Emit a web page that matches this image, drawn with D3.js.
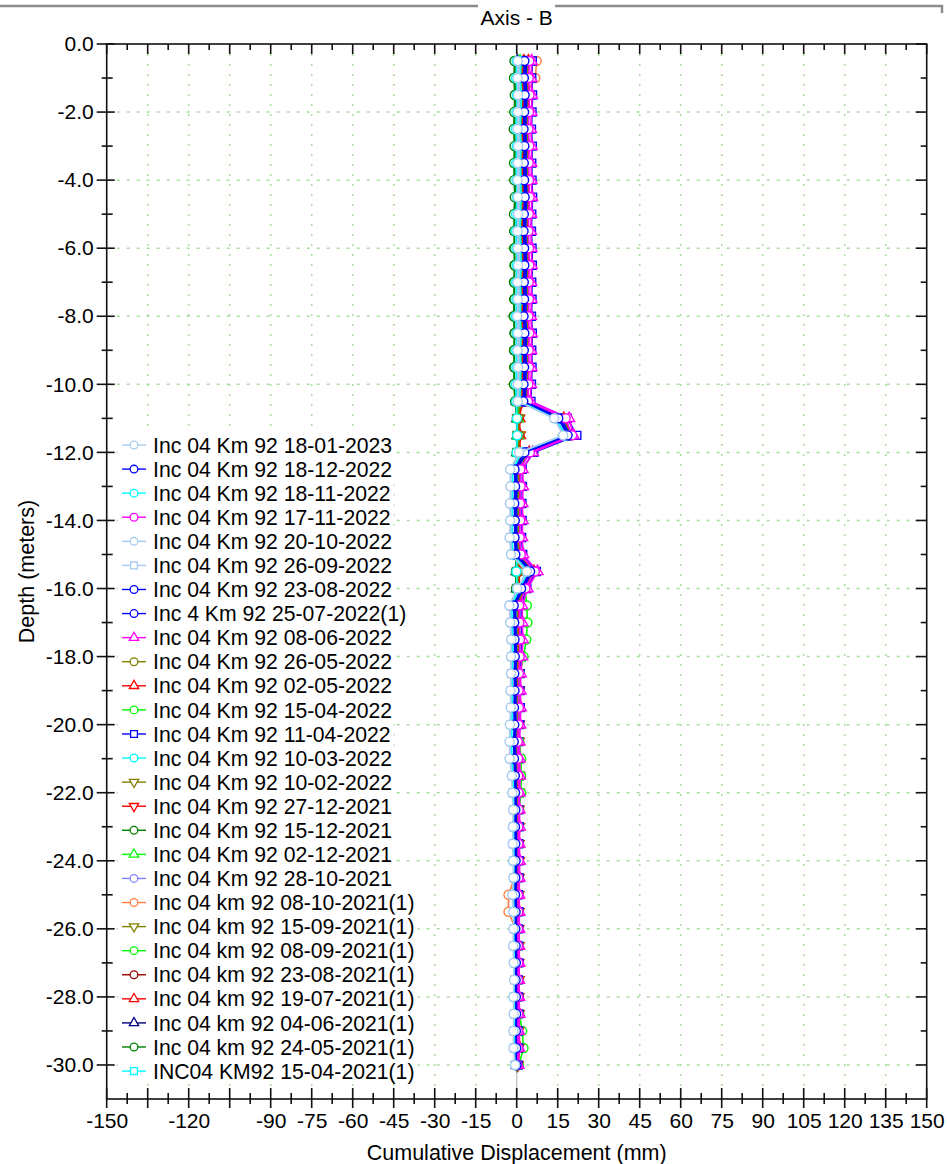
<!DOCTYPE html>
<html>
<head>
<meta charset="utf-8">
<script src="https://cdn.jsdelivr.net/npm/d3@7"></script>
<style>
  body { margin: 0; background: #fff; }
  svg { display: block; font-family: Arial, "Liberation Sans", sans-serif; }
</style>
</head>
<body>
<svg id="chart"></svg>
<script>
// depth of each reading (m)
const depths = [-0.5,-1.0,-1.5,-2.0,-2.5,-3.0,-3.5,-4.0,-4.5,-5.0,
  -5.5,-6.0,-6.5,-7.0,-7.5,-8.0,-8.5,-9.0,-9.5,-10.0,
  -10.5,-11.0,-11.5,-12.0,-12.5,-13.0,-13.5,-14.0,-14.5,-15.0,
  -15.5,-16.0,-16.5,-17.0,-17.5,-18.0,-18.5,-19.0,-19.5,-20.0,
  -20.5,-21.0,-21.5,-22.0,-22.5,-23.0,-23.5,-24.0,-24.5,-25.0,
  -25.5,-26.0,-26.5,-27.0,-27.5,-28.0,-28.5,-29.0,-29.5,-30.0];

// cumulative displacement (mm), one array per reading
const d20230118 = [0.4,0.3,0.5,0.4,0.3,0.5,0.4,0.3,0.4,0.5, 0.3,0.4,0.5,0.3,0.4,0.2,0.4,0.3,0.5,0.4,
  0.4,13.7,17.0,0.9,-2.4,-2.3,-2.5,-2.4,-2.6,-2.1, 3.7,0.2,-2.7,-2.4,-2.0,-2.1,-2.1,-2.3,-2.2,-2.5,
  -2.6,-2.6,-1.8,-1.6,-1.3,-1.4,-1.5,-1.3,-1.2,-1.6, -1.2,-1.2,-1.3,-1.1,-1.0,-1.2,-1.1,-1.2,-1.2,-0.6];
const d20221218 = [2.8,2.6,2.9,2.7,2.5,2.8,2.6,2.7,2.9,2.6, 2.5,2.7,2.8,2.6,2.7,2.5,2.8,2.6,2.7,2.5,
  2.4,15.2,18.6,2.8,-0.8,-0.6,-0.9,-0.7,-0.8,-0.5, 4.9,1.6,-1.1,-0.9,-0.8,-0.7,-0.9,-0.8,-1.0,-0.9,
  -1.1,-1.0,-0.7,-0.6,-0.5,-0.6,-0.5,-0.4,-0.5,-0.6, -0.4,-0.5,-0.4,-0.3,-0.4,-0.3,-0.2,-0.3,-0.2,-0.1];
const d20221118 = [1.5,1.4,1.7,1.5,1.3,1.6,1.4,1.5,1.6,1.4, 1.3,1.5,1.6,1.4,1.5,1.3,1.6,1.4,1.5,1.3,
  1.2,14.4,17.8,1.9,-1.5,-1.4,-1.6,-1.5,-1.7,-1.3, 4.3,0.9,-1.8,-1.6,-1.4,-1.4,-1.5,-1.6,-1.5,-1.7,
  -1.8,-1.8,-1.2,-1.1,-0.9,-1.0,-1.0,-0.9,-0.8,-1.0, -0.8,-0.8,-0.9,-0.7,-0.6,-0.8,-0.7,-0.7,-0.7,-0.3];
const d20221117 = [4.6,4.4,4.7,4.5,4.3,4.6,4.4,4.5,4.7,4.4, 4.3,4.5,4.6,4.4,4.5,4.3,4.6,4.4,4.5,4.3,
  4.1,17.9,20.3,4.8,1.3,1.4,1.2,1.3,1.1,1.5, 6.6,3.2,0.9,1.0,1.2,1.1,0.8,0.7,0.8,0.6,
  0.4,0.5,0.6,0.7,0.7,0.6,0.6,0.7,0.6,0.5, 0.6,0.5,0.5,0.6,0.5,0.5,0.6,0.4,0.5,0.3];
const d20221020 = [0.6,0.5,0.8,0.6,0.5,0.7,0.6,0.5,0.7,0.6, 0.5,0.6,0.8,0.5,0.6,0.4,0.7,0.5,0.7,0.6,
  0.6,14.0,17.3,1.2,-2.1,-2.0,-2.2,-2.1,-2.3,-1.9, 3.9,0.5,-2.4,-2.1,-1.8,-1.9,-1.9,-2.1,-2.0,-2.2,
  -2.3,-2.3,-1.6,-1.4,-1.1,-1.2,-1.3,-1.1,-1.0,-1.4, -1.0,-1.0,-1.1,-0.9,-0.8,-1.0,-0.9,-1.0,-1.0,-0.5];
const d20220926 = [1.0,0.9,1.2,1.0,0.8,1.1,0.9,1.0,1.1,0.9, 0.8,1.0,1.1,0.9,1.0,0.8,1.1,0.9,1.0,0.8,
  0.8,14.2,17.6,1.5,-1.9,-1.8,-2.0,-1.9,-2.1,-1.7, 4.0,0.7,-2.2,-1.9,-1.6,-1.7,-1.8,-1.9,-1.8,-2.0,
  -2.1,-2.1,-1.4,-1.3,-1.0,-1.1,-1.2,-1.0,-0.9,-1.2, -0.9,-0.9,-1.0,-0.8,-0.7,-0.9,-0.8,-0.9,-0.9,-0.4];
const d20220823 = [3.2,3.0,3.3,3.1,2.9,3.2,3.0,3.1,3.3,3.0, 2.9,3.1,3.2,3.0,3.1,2.9,3.2,3.0,3.1,2.9,
  2.8,15.8,19.0,3.3,-0.4,-0.3,-0.5,-0.4,-0.5,-0.2, 5.3,1.9,-0.8,-0.6,-0.5,-0.4,-0.6,-0.5,-0.7,-0.6,
  -0.8,-0.7,-0.5,-0.4,-0.3,-0.4,-0.3,-0.2,-0.3,-0.4, -0.2,-0.3,-0.2,-0.1,-0.2,-0.1,0.0,-0.1,0.0,0.0];
const d20220725 = [3.6,3.4,3.7,3.5,3.3,3.6,3.4,3.5,3.7,3.4, 3.3,3.5,3.6,3.4,3.5,3.3,3.6,3.4,3.5,3.3,
  3.2,16.3,19.5,3.8,0.0,0.1,-0.1,0.0,-0.1,0.2, 5.7,2.3,-0.5,-0.3,-0.2,-0.1,-0.3,-0.2,-0.4,-0.3,
  -0.5,-0.4,-0.3,-0.2,-0.1,-0.2,-0.1,0.0,-0.1,-0.2, 0.0,-0.1,0.0,0.1,0.0,0.1,0.1,0.0,0.1,0.1];
const d20220608 = [5.5,5.3,5.6,5.4,5.2,5.5,5.3,5.4,5.6,5.3, 5.2,5.4,5.5,5.3,5.4,5.2,5.5,5.3,5.4,5.2,
  5.0,19.2,20.8,5.9,2.2,2.3,2.1,2.2,2.0,2.4, 7.6,4.0,2.0,2.1,2.2,2.0,1.5,1.4,1.5,1.3,
  1.0,1.1,1.2,1.1,1.0,1.1,1.0,1.1,1.0,0.9, 1.0,0.9,0.9,1.0,0.8,0.9,1.0,0.8,0.9,0.6];
const d20220526 = [4.0,3.8,4.1,3.9,3.7,4.0,3.8,3.9,4.1,3.8, 3.7,3.9,4.0,3.8,3.9,3.7,4.0,3.8,3.9,3.7,
  3.6,16.8,19.9,4.3,0.6,0.7,0.5,0.6,0.5,0.8, 6.0,2.6,0.2,0.3,0.4,0.4,0.2,0.1,0.2,0.1,
  0.0,0.1,0.1,0.2,0.2,0.1,0.2,0.2,0.1,0.0, 0.2,0.1,0.2,0.2,0.1,0.2,0.2,0.1,0.2,0.1];
const d20220502 = [4.3,4.1,4.4,4.2,4.0,4.3,4.1,4.2,4.4,4.1, 4.0,4.2,4.3,4.1,4.2,4.0,4.3,4.1,4.2,4.0,
  3.9,17.2,20.1,4.6,0.9,1.0,0.8,0.9,0.8,1.1, 6.3,2.9,0.5,0.6,0.7,0.6,0.5,0.4,0.5,0.3,
  0.2,0.3,0.4,0.4,0.4,0.3,0.4,0.4,0.3,0.2, 0.4,0.3,0.3,0.4,0.3,0.3,0.4,0.3,0.3,0.2];
const d20220415 = [3.0,2.8,3.1,2.9,2.7,3.0,2.8,2.9,3.1,2.8, 2.7,2.9,3.0,2.8,2.9,2.7,3.0,2.8,2.9,2.7,
  2.6,15.6,18.9,3.1,0.4,0.5,0.3,0.4,0.3,0.6, 4.6,3.0,3.7,3.9,3.5,2.5,1.2,0.8,0.9,0.8,
  1.0,1.6,1.6,1.6,0.9,0.7,0.6,0.7,0.6,0.5, 0.6,0.5,0.6,0.5,0.4,0.5,0.6,0.5,0.5,0.3];
const d20220411 = [5.7,5.5,5.8,5.6,5.4,5.7,5.5,5.6,5.8,5.5, 5.4,5.6,5.7,5.5,5.6,5.4,5.7,5.5,5.6,5.4,
  5.2,18.5,22.0,6.2,2.0,2.1,1.9,2.0,1.8,2.2, 7.2,3.7,1.6,1.7,1.8,1.7,1.3,1.2,1.3,1.1,
  0.8,0.9,1.0,0.9,0.8,0.9,0.8,0.9,0.8,0.7, 0.8,0.7,0.7,0.8,0.6,0.7,0.8,0.6,0.7,0.5];
const d20220310 = [0.0,-0.2,0.1,-0.1,-0.3,0.0,-0.2,-0.1,0.1,-0.2, -0.3,-0.1,0.0,-0.2,-0.1,-0.3,0.0,-0.2,-0.1,-0.3,
  -0.2,0.1,0.2,0.0,-0.1,0.0,-0.2,-0.1,-0.2,0.0, -0.1,0.1,-0.2,-0.1,0.0,-0.1,-0.2,-0.1,-0.2,-0.1,
  -0.2,-0.1,0.0,-0.1,0.0,-0.1,0.0,-0.1,0.0,-0.1, 0.0,-0.1,0.0,0.0,-0.1,0.0,0.0,0.1,0.0,0.0];
const d20220210 = [1.8,1.6,1.9,1.7,1.5,1.8,1.6,1.7,1.9,1.6, 1.5,1.7,1.8,1.6,1.7,1.5,1.8,1.6,1.7,1.5,
  1.3,0.6,0.8,0.7,0.5,0.6,0.4,0.5,0.4,0.6, 0.5,0.6,0.4,0.5,0.6,0.5,0.4,0.5,0.4,0.5,
  0.4,0.5,0.6,0.5,0.4,0.5,0.4,0.5,0.4,0.3, 0.4,0.3,0.4,0.3,0.4,0.3,0.4,0.3,0.3,0.2];
const d20211227 = [2.4,2.2,2.5,2.3,2.1,2.4,2.2,2.3,2.5,2.2, 2.1,2.3,2.4,2.2,2.3,2.1,2.4,2.2,2.3,2.1,
  1.9,0.9,1.1,1.0,0.8,0.9,0.7,0.8,0.7,0.9, 0.8,0.9,0.7,0.8,0.9,0.8,0.7,0.8,0.7,0.8,
  0.7,0.8,0.9,0.8,0.7,0.8,0.7,0.8,0.7,0.6, 0.7,0.6,0.7,0.6,0.7,0.6,0.7,0.6,0.6,0.4];
const d20211215 = [-0.8,-1.0,-0.7,-0.9,-1.1,-0.8,-1.0,-0.9,-0.7,-1.0, -0.9,-0.8,-0.7,-0.9,-0.8,-1.0,-0.7,-0.9,-0.8,-1.0,
  -0.6,0.2,0.3,0.1,-0.3,-0.2,-0.4,-0.3,-0.4,-0.2, -0.3,-0.2,-0.4,-0.3,-0.2,-0.3,-0.4,-0.3,-0.4,-0.3,
  -0.4,-0.3,-0.2,-0.3,-0.2,-0.3,-0.2,-0.3,-0.2,-0.3, -0.2,-0.3,-0.2,-0.1,-0.2,-0.1,-0.2,-0.1,-0.1,0.0];
const d20211202 = [1.2,1.0,1.3,1.1,0.9,1.2,1.0,1.1,1.3,1.0, 0.9,1.1,1.2,1.0,1.1,0.9,1.2,1.0,1.1,0.9,
  0.8,0.4,0.5,0.4,0.3,0.4,0.2,0.3,0.2,0.4, 0.3,0.4,0.6,0.7,0.6,0.5,0.4,0.5,0.4,0.5,
  0.4,0.6,0.6,0.5,0.4,0.5,0.4,0.5,0.4,0.3, 0.4,0.3,0.4,0.3,0.4,0.3,0.4,0.5,0.6,0.3];
const d20211028 = [0.6,0.4,0.7,0.5,0.3,0.6,0.4,0.5,0.7,0.4, 0.3,0.5,0.6,0.4,0.5,0.3,0.6,0.4,0.5,0.3,
  0.2,0.0,0.2,0.1,-0.1,0.0,-0.2,-0.1,-0.2,0.0, -0.1,0.0,-0.2,-0.1,0.0,-0.1,-0.2,-0.1,-0.2,-0.1,
  -0.2,-0.1,0.0,-0.1,0.0,-0.1,0.0,-0.1,0.0,-0.1, 0.0,-0.1,0.0,0.0,-0.1,0.0,0.0,0.0,0.1,0.0];
const d20211008 = [7.3,6.8,3.2,3.0,2.8,3.1,2.9,3.0,3.2,2.9, 2.8,3.0,3.1,2.9,3.0,2.8,3.1,2.9,3.0,2.8,
  1.0,0.4,0.6,0.5,0.3,0.4,0.2,0.3,0.2,0.4, 0.3,0.4,0.2,0.3,0.4,0.3,0.2,0.3,0.2,0.3,
  0.2,0.3,0.2,0.1,0.0,-0.2,-0.4,-0.6,-0.8,-3.0, -3.0,-0.4,-0.2,-0.1,0.0,-0.1,0.0,0.1,0.0,0.0];
const d20210915 = [1.4,1.2,1.5,1.3,1.1,1.4,1.2,1.3,1.5,1.2, 1.1,1.3,1.4,1.2,1.3,1.1,1.4,1.2,1.3,1.1,
  1.0,0.5,0.7,0.6,0.4,0.5,0.3,0.4,0.3,0.5, 0.4,0.5,0.3,0.4,0.5,0.4,0.3,0.4,0.3,0.4,
  0.3,0.4,0.5,0.4,0.3,0.4,0.3,0.4,0.3,0.2, 0.3,0.2,0.3,0.2,0.3,0.2,0.3,0.2,0.2,0.1];
const d20210908 = [0.9,0.7,1.0,0.8,0.6,0.9,0.7,0.8,1.0,0.7, 0.6,0.8,0.9,0.7,0.8,0.6,0.9,0.7,0.8,0.6,
  0.5,0.3,0.4,0.3,0.2,0.3,0.1,0.2,0.1,0.3, 0.2,0.3,0.1,0.2,0.3,0.2,0.1,0.2,0.1,0.2,
  0.1,0.2,0.3,0.2,0.1,0.2,0.1,0.2,0.1,0.2, 0.3,0.4,0.5,0.6,0.7,0.8,1.0,2.0,2.5,0.8];
const d20210823 = [2.0,1.8,2.1,1.9,1.7,2.0,1.8,1.9,2.1,1.8, 1.7,1.9,2.0,1.8,1.9,1.7,2.0,1.8,1.9,1.7,
  1.5,0.7,0.9,0.8,0.6,0.7,0.5,0.6,0.5,0.7, 0.6,0.7,0.5,0.6,0.7,0.6,0.5,0.6,0.5,0.6,
  0.5,0.6,0.7,0.6,0.5,0.6,0.5,0.6,0.5,0.4, 0.5,0.4,0.5,0.4,0.5,0.4,0.5,0.4,0.4,0.3];
const d20210719 = [2.6,2.4,2.7,2.5,2.3,2.6,2.4,2.5,2.7,2.4, 2.3,2.5,2.6,2.4,2.5,2.3,2.6,2.4,2.5,2.3,
  2.0,1.0,1.2,1.1,0.9,1.0,0.8,0.9,0.8,1.0, 0.9,1.0,0.8,0.9,1.0,0.9,0.8,0.9,0.8,0.9,
  0.8,0.9,1.0,0.9,0.8,0.9,0.8,0.9,0.8,0.7, 0.8,0.7,0.8,0.7,0.8,0.7,0.8,0.9,1.1,0.5];
const d20210604 = [0.3,0.1,0.4,0.2,0.0,0.3,0.1,0.2,0.4,0.1, 0.0,0.2,0.3,0.1,0.2,0.0,0.3,0.1,0.2,0.0,
  0.1,0.2,0.3,0.2,0.0,0.1,-0.1,0.0,-0.1,0.1, 0.0,0.1,-0.1,0.0,0.1,0.0,-0.1,0.0,-0.1,0.0,
  -0.1,0.0,0.1,0.0,0.1,0.0,0.1,0.0,0.1,0.0, 0.1,0.0,0.1,0.1,0.0,0.1,0.1,0.0,0.1,0.0];
const d20210524 = [-0.5,-0.7,-0.4,-0.6,-0.8,-0.5,-0.7,-0.6,-0.4,-0.7, -0.8,-0.9,-0.8,-1.0,-0.9,-1.1,-0.8,-1.0,-0.9,-1.0,
  -0.5,0.1,0.2,0.0,-0.2,-0.1,-0.3,-0.2,-0.3,-0.1, -0.2,-0.1,-0.3,-0.2,-0.1,-0.2,-0.3,-0.2,-0.3,-0.2,
  -0.3,-0.2,-0.1,-0.2,-0.1,-0.2,-0.1,-0.2,-0.1,-0.2, -0.1,-0.2,-0.1,0.0,-0.1,0.0,-0.1,0.0,0.0,0.0];
const d20210415 = [0,0,0,0,0,0,0,0,0,0, 0,0,0,0,0,0,0,0,0,0, 0,0,0,0,0,0,0,0,0,0,
  0,0,0,0,0,0,0,0,0,0, 0,0,0,0,0,0,0,0,0,0, 0,0,0,0,0,0,0,0,0,0];

const seriesNames = [
  'Inc 04 Km 92 18-01-2023', 'Inc 04 Km 92 18-12-2022', 'Inc 04 Km 92 18-11-2022',
  'Inc 04 Km 92 17-11-2022', 'Inc 04 Km 92 20-10-2022', 'Inc 04 Km 92 26-09-2022',
  'Inc 04 Km 92 23-08-2022', 'Inc 4 Km 92 25-07-2022(1)', 'Inc 04 Km 92 08-06-2022',
  'Inc 04 Km 92 26-05-2022', 'Inc 04 Km 92 02-05-2022', 'Inc 04 Km 92 15-04-2022',
  'Inc 04 Km 92 11-04-2022', 'Inc 04 Km 92 10-03-2022', 'Inc 04 Km 92 10-02-2022',
  'Inc 04 Km 92 27-12-2021', 'Inc 04 Km 92 15-12-2021', 'Inc 04 Km 92 02-12-2021',
  'Inc 04 Km 92 28-10-2021', 'Inc 04 km 92 08-10-2021(1)', 'Inc 04 km 92 15-09-2021(1)',
  'Inc 04 km 92 08-09-2021(1)', 'Inc 04 km 92 23-08-2021(1)', 'Inc 04 km 92 19-07-2021(1)',
  'Inc 04 km 92 04-06-2021(1)', 'Inc 04 km 92 24-05-2021(1)', 'INC04 KM92 15-04-2021(1)'
];
const seriesValues = [
  d20230118, d20221218, d20221118, d20221117, d20221020, d20220926, d20220823, d20220725, d20220608,
  d20220526, d20220502, d20220415, d20220411, d20220310, d20220210, d20211227, d20211215, d20211202,
  d20211028, d20211008, d20210915, d20210908, d20210823, d20210719, d20210604, d20210524, d20210415
];
const seriesColors = [
  '#a6caf0', '#0000ff', '#00ffff', '#ff00ff', '#a6caf0', '#a6caf0', '#0000ff', '#0000ff', '#ff00ff',
  '#808000', '#ff0000', '#00ff00', '#0000ff', '#00ffff', '#808000', '#ff0000', '#008000', '#00ff00',
  '#8080ff', '#ff8040', '#808000', '#00ff00', '#990000', '#ff0000', '#000080', '#008000', '#00ffff'
];
const seriesMarkers = [
  'circle', 'circle', 'circle', 'circle', 'circle', 'square', 'circle', 'circle', 'up',
  'circle', 'up', 'circle', 'square', 'circle', 'down', 'down', 'circle', 'up',
  'circle', 'circle', 'down', 'circle', 'circle', 'up', 'up', 'circle', 'square'
];

const xTickLabels = [-150, -120, -90, -75, -60, -45, -30, -15, 0, 15, 30, 45, 60, 75, 90, 105, 120, 135, 150];
const yTickLabels = [0, -2, -4, -6, -8, -10, -12, -14, -16, -18, -20, -22, -24, -26, -28, -30];

// plain hyphen for negative numbers, as in the original
const fmt = d3.formatLocale({ decimal: '.', thousands: ',', grouping: [3], currency: ['', ''], minus: '-' });

class DepthProfile {
  constructor(config) {
    this.config = {
      parentElement: config.parentElement,
      containerWidth: config.containerWidth || 947,
      containerHeight: config.containerHeight || 1164,
      margin: config.margin || { top: 44, right: 20.3, bottom: 65, left: 106.7 },
      fontSize: config.fontSize || 21
    };
    this.initChart();
  }

  initChart() {
    const vis = this;
    vis.width = vis.config.containerWidth - vis.config.margin.left - vis.config.margin.right;
    vis.height = vis.config.containerHeight - vis.config.margin.top - vis.config.margin.bottom;

    vis.xScale = d3.scaleLinear().domain([-150, 150]).range([0, vis.width]);
    vis.yScale = d3.scaleLinear().domain([0, -31]).range([0, vis.height]);

    vis.svg = d3.select(vis.config.parentElement)
      .attr('width', vis.config.containerWidth)
      .attr('height', vis.config.containerHeight);
    vis.chart = vis.svg.append('g')
      .attr('transform', `translate(${vis.config.margin.left},${vis.config.margin.top})`);
  }

  renderChart() {
    const vis = this;
    const x = vis.xScale, y = vis.yScale, fs = vis.config.fontSize;

    // group box line at top, broken by the title
    vis.svg.append('path')
      .attr('d', 'M0,6H942V13')
      .attr('fill', 'none').attr('stroke', '#8c8c8c').attr('stroke-width', 2.5);
    vis.svg.append('rect').attr('x', 478).attr('y', 0).attr('width', 77).attr('height', 32).attr('fill', '#fff');
    vis.svg.append('text')
      .attr('x', vis.config.margin.left + vis.width / 2).attr('y', 25)
      .attr('text-anchor', 'middle').attr('font-size', fs).text('Axis - B');

    // grid
    const gridX = d3.range(-135, 136, 15).filter(v => v !== 0);
    const gridY = d3.range(-2, -31, -2);
    vis.chart.append('g').selectAll('line').data(gridX).join('line')
      .attr('x1', d => x(d)).attr('x2', d => x(d)).attr('y1', 0).attr('y2', vis.height)
      .attr('stroke', '#a9dca0').attr('stroke-width', 1.5).attr('stroke-dasharray', '2,8');
    vis.chart.append('g').selectAll('line').data(gridY).join('line')
      .attr('x1', 0).attr('x2', vis.width).attr('y1', d => y(d)).attr('y2', d => y(d))
      .attr('stroke', '#a9dca0').attr('stroke-width', 1.5).attr('stroke-dasharray', '3,7');
    vis.chart.append('line')
      .attr('x1', x(0)).attr('x2', x(0)).attr('y1', 0).attr('y2', vis.height)
      .attr('stroke', '#c8c8c8').attr('stroke-width', 1.5);

    // profiles, oldest drawn first
    const line = d3.line().x(d => x(d.v)).y(d => y(d.depth));
    const order = d3.range(seriesNames.length).reverse();
    order.forEach(i => {
      const pts = depths.map((depth, k) => ({ depth: depth, v: seriesValues[i][k] }));
      const g = vis.chart.append('g');
      g.append('path').datum(pts).attr('d', line)
        .attr('fill', 'none').attr('stroke', seriesColors[i]).attr('stroke-width', 1.6);
      g.selectAll('path.mk').data(pts).join('path').attr('class', 'mk')
        .attr('d', vis.markerPath(seriesMarkers[i]))
        .attr('transform', d => `translate(${x(d.v)},${y(d.depth)})` + (seriesMarkers[i] === 'down' ? ' rotate(180)' : ''))
        .attr('fill', '#fff').attr('stroke', seriesColors[i]).attr('stroke-width', 1.4);
    });

    // frame
    vis.chart.append('rect').attr('width', vis.width).attr('height', vis.height)
      .attr('fill', 'none').attr('stroke', '#111').attr('stroke-width', 1.6);

    // tick marks
    const xMajor = d3.range(-150, 151, 15), xMinor = d3.range(-142.5, 150, 15);
    const yMajor = d3.range(0, -31, -2), yMinor = d3.range(-1, -31, -2);
    const ticks = vis.chart.append('g').attr('stroke', '#111').attr('stroke-width', 1.6);
    const vt = (data, y1, y2) => ticks.append('g').selectAll('line').data(data).join('line')
      .attr('x1', d => x(d)).attr('x2', d => x(d)).attr('y1', y1).attr('y2', y2);
    const ht = (data, x1, x2) => ticks.append('g').selectAll('line').data(data).join('line')
      .attr('y1', d => y(d)).attr('y2', d => y(d)).attr('x1', x1).attr('x2', x2);
    vt(xMajor, vis.height - 11, vis.height + 9);
    vt(xMinor, vis.height - 6, vis.height + 5);
    vt(xMajor, 0, 10);
    vt(xMinor, 0, 6);
    ht(yMajor, -10, 8);
    ht(yMinor, -5, 6);
    ht(yMajor, vis.width - 11, vis.width);
    ht(yMinor, vis.width - 6, vis.width);

    // axis labels
    const xAxisG = vis.chart.append('g').attr('transform', `translate(0,${vis.height})`)
      .call(d3.axisBottom(x).tickValues(xTickLabels).tickSize(0).tickPadding(14).tickFormat(fmt.format('d')));
    xAxisG.select('.domain').remove();
    xAxisG.attr('font-size', fs).attr('font-family', null);
    xAxisG.selectAll('text').attr('fill', '#000');

    const yAxisG = vis.chart.append('g')
      .call(d3.axisLeft(y).tickValues(yTickLabels).tickSize(0).tickPadding(13).tickFormat(d => fmt.format('.1f')(d === 0 ? 0 : d)));
    yAxisG.select('.domain').remove();
    yAxisG.attr('font-size', fs).attr('font-family', null);
    yAxisG.selectAll('text').attr('fill', '#000');

    vis.svg.append('text')
      .attr('x', vis.config.margin.left + vis.width / 2).attr('y', 1160)
      .attr('text-anchor', 'middle').attr('font-size', 21.5).text('Cumulative Displacement (mm)');
    vis.svg.append('text')
      .attr('transform', `translate(34,${vis.config.margin.top + vis.height / 2}) rotate(-90)`)
      .attr('text-anchor', 'middle').attr('font-size', 21.5).text('Depth (meters)');

    // legend, one white-backed entry per reading
    const legend = vis.svg.append('g');
    seriesNames.forEach((name, i) => {
      const cy = 445 + i * 24.08;
      const item = legend.append('g').attr('transform', `translate(118,${cy})`);
      const bg = item.append('rect').attr('y', -12).attr('height', 24.5).attr('fill', '#fff');
      item.append('line').attr('x1', 4).attr('x2', 28).attr('y1', 0).attr('y2', 0)
        .attr('stroke', seriesColors[i]).attr('stroke-width', 1.4);
      item.append('path').attr('d', vis.markerPath(seriesMarkers[i], 0.85))
        .attr('transform', 'translate(16,0)' + (seriesMarkers[i] === 'down' ? ' rotate(180)' : ''))
        .attr('fill', '#fff').attr('stroke', seriesColors[i]).attr('stroke-width', 1.3);
      const t = item.append('text').attr('x', 35).attr('dy', '0.36em').attr('font-size', 21.2).text(name);
      bg.attr('width', 35 + t.node().getComputedTextLength() + 3);
    });
  }

  markerPath(kind, k = 1) {
    if (kind === 'square') return d3.symbol(d3.symbolSquare, 64 * k * k)();
    if (kind === 'up' || kind === 'down') return d3.symbol(d3.symbolTriangle, 52 * k * k)();
    return d3.symbol(d3.symbolCircle, 64 * k * k)();
  }
}

const chart = new DepthProfile({ parentElement: '#chart' });
chart.renderChart();
</script>
</body>
</html>
